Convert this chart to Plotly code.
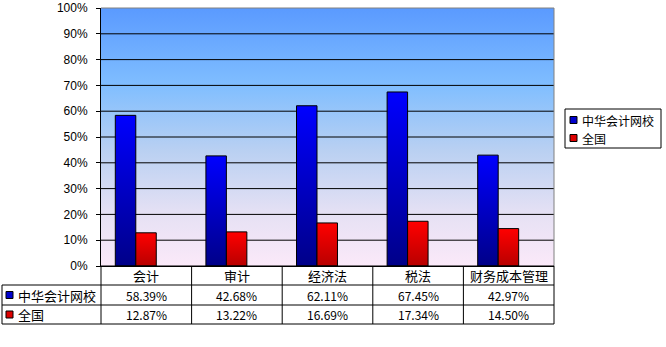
import plotly.graph_objects as go

categories = ["会计", "审计", "经济法", "税法", "财务成本管理"]
series_names = ["中华会计网校", "全国"]
wangxiao = [58.39, 42.68, 62.11, 67.45, 42.97]
quanguo = [12.87, 13.22, 16.69, 17.34, 14.50]
y_ticks = [0, 10, 20, 30, 40, 50, 60, 70, 80, 90, 100]
y_tick_labels = ["0%", "10%", "20%", "30%", "40%", "50%", "60%", "70%", "80%", "90%", "100%"]

FONT = "Noto Sans CJK SC"
TICK_FONT = "Liberation Sans"
W, H = 666, 347
L, R, T, B = 101, 112, 8, 81
PW, PH = W - L - R, H - T - B

blue_scale = [[0, "#000088"], [1, "#0000FF"]]
red_scale = [[0, "#B80000"], [1, "#FF0000"]]
bg_scale = [[0, "#FBE9F9"], [0.2, "#E6E1F4"], [0.45, "#B9D0F2"], [0.7, "#80BEFF"], [1, "#5A9AFF"]]

n = len(categories)
xr = [-0.5, n - 0.5]
bar_w = 0.226
offsets = [-0.342, -0.116]

fig = go.Figure()

# plot-area background gradient
fig.add_trace(go.Scatter(
    x=[xr[0], xr[1], xr[1], xr[0], xr[0]], y=[0, 0, 100, 100, 0],
    mode="lines", fill="toself", line=dict(width=0),
    fillgradient=dict(type="vertical", colorscale=bg_scale, start=0, stop=100),
    hoverinfo="skip", showlegend=False))

# gridlines
gx, gy = [], []
for t in y_ticks[1:-1]:
    gx += [xr[0], xr[1], None]
    gy += [t, t, None]
fig.add_trace(go.Scatter(x=gx, y=gy, mode="lines", line=dict(color="black", width=1),
                         hoverinfo="skip", showlegend=False))

# bars as gradient-filled polygons
for si, (vals, scale) in enumerate([(wangxiao, blue_scale), (quanguo, red_scale)]):
    for ci, v in enumerate(vals):
        x0 = ci + offsets[si]
        x1 = x0 + bar_w
        fig.add_trace(go.Scatter(
            x=[x0, x1, x1, x0, x0], y=[0, 0, v, v, 0],
            mode="lines", fill="toself", line=dict(color="black", width=1),
            fillgradient=dict(type="vertical", colorscale=scale, start=0, stop=v),
            name=series_names[si], hoverinfo="skip", showlegend=False))

shapes = []
ann = []

def px2x(px):
    return (px - L) / PW

def py2y(py):
    return (H - B - py) / PH

def line(x0, y0, x1, y1, color="black"):
    shapes.append(dict(type="line", xref="paper", yref="paper",
                       x0=px2x(x0), y0=py2y(y0), x1=px2x(x1), y1=py2y(y1),
                       line=dict(color=color, width=1)))

# plot borders (top/right gray)
line(L, T, L + PW, T, "#808080")
line(L + PW, T, L + PW, T + PH, "#808080")

# data table
col_edges = [L + PW * k / n for k in range(n + 1)]
left_x = 2
rows = [266, 285, 305, 324]
for ry in rows:
    line(left_x if ry != rows[0] else L, ry, L + PW, ry)
line(left_x, rows[1], left_x, rows[3])
for cx in col_edges:
    line(cx, rows[0], cx, rows[3])

def text(xp, yp, s, anchor="center", size=12, family=FONT):
    ann.append(dict(xref="paper", yref="paper", x=px2x(xp), y=py2y(yp), text=s,
                    showarrow=False, xanchor=anchor, yanchor="middle",
                    font=dict(family=family, size=size, color="black")))

for ci, c in enumerate(categories):
    cx = (col_edges[ci] + col_edges[ci + 1]) / 2
    text(cx, (rows[0] + rows[1]) / 2, c, size=13)
    text(cx, (rows[1] + rows[2]) / 2, f"{wangxiao[ci]:.2f}%")
    text(cx, (rows[2] + rows[3]) / 2, f"{quanguo[ci]:.2f}%")

sym_colors = ["#0000CC", "#DD0000"]
for si, nm in enumerate(series_names):
    cy = (rows[1 + si] + rows[2 + si]) / 2
    shapes.append(dict(type="rect", xref="paper", yref="paper",
                       x0=px2x(6), x1=px2x(13), y0=py2y(cy - 3.5), y1=py2y(cy + 3.5),
                       fillcolor=sym_colors[si], line=dict(color="black", width=1)))
    text(16, cy, nm, anchor="left", size=13)

# legend box
shapes.append(dict(type="rect", xref="paper", yref="paper",
                   x0=px2x(565), x1=px2x(661), y0=py2y(109), y1=py2y(148),
                   line=dict(color="black", width=1), fillcolor="white"))
for si, nm in enumerate(series_names):
    cy = 120 + si * 18
    shapes.append(dict(type="rect", xref="paper", yref="paper",
                       x0=px2x(570), x1=px2x(577), y0=py2y(cy - 3.5), y1=py2y(cy + 3.5),
                       fillcolor=sym_colors[si], line=dict(color="black", width=1)))
    text(580, cy, nm, anchor="left", size=12)

fig.update_layout(
    width=W, height=H,
    margin=dict(l=L, r=R, t=T, b=B, pad=0, autoexpand=False),
    paper_bgcolor="white", plot_bgcolor="white",
    showlegend=False,
    shapes=shapes, annotations=ann,
    xaxis=dict(range=xr, showgrid=False, zeroline=False, showticklabels=False,
               showline=True, linecolor="black", linewidth=1, ticks="", fixedrange=True,
               automargin=False),
    yaxis=dict(range=[0, 100], tickvals=y_ticks, ticktext=y_tick_labels,
               showgrid=False, zeroline=False, showline=True, linecolor="black", linewidth=1,
               ticks="outside", ticklen=4, tickcolor="black", ticklabelstandoff=6,
               ticklabeloverflow="allow", automargin=False,
               tickfont=dict(family=TICK_FONT, size=12, color="black"), fixedrange=True),
)

fig.write_html("out.html")
